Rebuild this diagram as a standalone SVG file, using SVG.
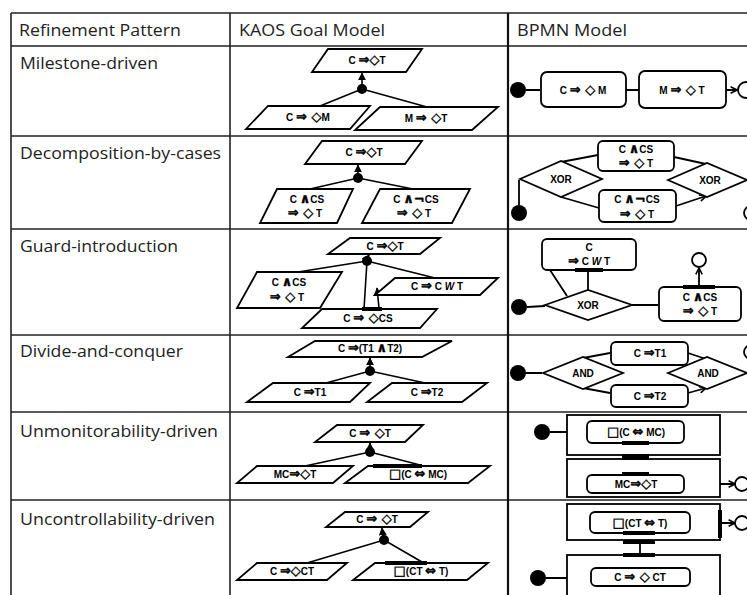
<svg xmlns="http://www.w3.org/2000/svg" width="747" height="595" viewBox="0 0 747 595">
<style>
.tb{stroke:#222;stroke-width:1.6;fill:none}
.h{font-family:"Open Sans","Liberation Sans",sans-serif;font-size:17px;fill:#222}
.g{fill:#fff;stroke:#000;stroke-width:1.8}
.t{font-family:"Liberation Sans","DejaVu Sans",sans-serif;font-weight:bold;font-size:10px;text-anchor:middle;fill:#000}
.s{font-family:"DejaVu Sans",sans-serif;font-size:13px;font-weight:bold;stroke:#000;stroke-width:0.4}
.ln{stroke:#000;stroke-width:1.6;fill:none}
.ar{stroke:#000;stroke-width:1.8;fill:none;marker-end:url(#a)}
.ka{stroke:#000;stroke-width:1.6;fill:none;marker-end:url(#k)}
.bar{stroke:#000;stroke-width:4}
.dot{fill:#000}
.end{fill:#fff;stroke:#000;stroke-width:1.8}
</style>
<defs>
<marker id="a" viewBox="0 0 10 10" refX="9" refY="5" markerWidth="8" markerHeight="8" orient="auto" markerUnits="userSpaceOnUse"><path d="M1,1 L9,5 L1,9" fill="none" stroke="#000" stroke-width="2"/></marker>
<marker id="k" viewBox="0 0 10 10" refX="9" refY="5" markerWidth="8" markerHeight="8" orient="auto" markerUnits="userSpaceOnUse"><path d="M0,0 L10,5 L0,10 Z" fill="#000"/></marker>
</defs>
<g id="table">
<path class="tb" d="M11,13H747M11,46H747M11,136H747M11,229H747M11,335H747M11,412H747M11,500H747M11,13V595M230,13V595"/>
<path d="M508,13V595" stroke="#111" stroke-width="2.2"/>
<text class="h" x="19" y="36" textLength="162" lengthAdjust="spacingAndGlyphs">Refinement Pattern</text>
<text class="h" x="239" y="36" textLength="146" lengthAdjust="spacingAndGlyphs">KAOS Goal Model</text>
<text class="h" x="517" y="36" textLength="110" lengthAdjust="spacingAndGlyphs">BPMN Model</text>
<text class="h" x="20" y="69" textLength="138" lengthAdjust="spacingAndGlyphs">Milestone-driven</text>
<text class="h" x="20" y="159" textLength="201" lengthAdjust="spacingAndGlyphs">Decomposition-by-cases</text>
<text class="h" x="20" y="252" textLength="158" lengthAdjust="spacingAndGlyphs">Guard-introduction</text>
<text class="h" x="20" y="357" textLength="163" lengthAdjust="spacingAndGlyphs">Divide-and-conquer</text>
<text class="h" x="20" y="437" textLength="198" lengthAdjust="spacingAndGlyphs">Unmonitorability-driven</text>
<text class="h" x="20" y="525" textLength="195" lengthAdjust="spacingAndGlyphs">Uncontrollability-driven</text>
</g>
<g id="connectors">
<path class="ln" d="M362,89L320,106M362,89L427,107"/>
<path class="ka" d="M362,86V73"/>
<path class="ln" d="M358,178L310,189M358,178L413,189"/>
<path class="ka" d="M358,175V165"/>
<path class="ln" d="M367,261L298,272M367,261L435,278M367,261L364,309"/>
<path class="ka" d="M379,308L377,288"/>
<path class="ka" d="M367,258L369,255"/>
<path class="ln" d="M370,371L326,383M370,371L425,383"/>
<path class="ka" d="M370,368V358"/>
<path class="ln" d="M370,452L305,466M370,452L420,465"/>
<path class="ka" d="M370,449V443"/>
<path class="ln" d="M384,540L307,563M384,540L422,562"/>
<path class="ka" d="M383,537L382,528"/>
<path class="ar" d="M526,90H540M626,90H639M726,90H737"/>
<path class="ar" d="M519,205V180M561,162L598,155M561,197L599,208M674,157L706,164M676,206L706,196"/>
<path class="ar" d="M527,307L545,306M550,270L567,296M588,290V272M632,305H658M699,287V268"/>
<path class="ar" d="M526,373H542M583,358L610,353M583,388L610,393M688,353L706,359M688,393L706,388"/>
<path class="ar" d="M550,432H586M636,443V473M684,484H735"/>
<path class="ar" d="M546,578H590M640,568V534M690,523H735"/>
</g>
<g id="kaos-milestone">
<polygon class="g" points="328,49 422,49 406,72 312,72"/><text class="t" x="367" y="64">C <tspan class="s">⇒◇</tspan>T</text>
<polygon class="g" points="268,106 370,106 350,129 246,129"/><text class="t" x="308" y="121">C <tspan class="s">⇒ ◇</tspan>M</text>
<polygon class="g" points="380,107 498,107 472,130 355,130"/><text class="t" x="426" y="122">M <tspan class="s">⇒ ◇</tspan>T</text>
<circle class="dot" cx="362" cy="89" r="5"/>
</g>
<g id="kaos-cases">
<polygon class="g" points="322,141 422,141 405,164 305,164"/><text class="t" x="364" y="156">C <tspan class="s">⇒◇</tspan>T</text>
<polygon class="g" points="277,189 353,189 337,223 260,223"/><text class="t" x="307" y="203">C <tspan class="s">∧</tspan>CS</text><text class="t" x="305" y="217"><tspan class="s">⇒ ◇</tspan> T</text>
<polygon class="g" points="380,189 470,189 452,223 362,223"/><text class="t" x="416" y="203">C <tspan class="s">∧¬</tspan>CS</text><text class="t" x="414" y="217"><tspan class="s">⇒ ◇</tspan> T</text>
<circle class="dot" cx="358" cy="178" r="5"/>
</g>
<g id="kaos-guard">
<polygon class="g" points="350,238 440,238 420,254 328,254"/><text class="t" x="385" y="250">C <tspan class="s">⇒◇</tspan>T</text>
<polygon class="g" points="257,272 342,272 320,308 237,308"/><text class="t" x="289" y="286">C <tspan class="s">∧</tspan>CS</text><text class="t" x="287" y="301"><tspan class="s">⇒ ◇</tspan> T</text>
<polygon class="g" points="395,278 498,278 480,295 375,295"/><text class="t" x="437" y="290">C <tspan class="s">⇒</tspan> C <tspan font-style="italic">W</tspan> T</text>
<polygon class="g" points="322,309 437,309 420,328 302,328"/><text class="t" x="368" y="322">C <tspan class="s">⇒ ◇</tspan>CS</text>
<line class="bar" x1="362" y1="309" x2="382" y2="309"/>
<circle class="dot" cx="367" cy="261" r="5"/>
</g>
<g id="kaos-divide">
<polygon class="g" points="315,341 452,341 422,357 288,357"/><text class="t" x="370" y="352">C <tspan class="s">⇒</tspan>(T1 <tspan class="s">∧</tspan>T2)</text>
<polygon class="g" points="273,383 370,383 350,402 247,402"/><text class="t" x="310" y="396">C <tspan class="s">⇒</tspan>T1</text>
<polygon class="g" points="392,383 487,383 462,402 367,402"/><text class="t" x="427" y="396">C <tspan class="s">⇒</tspan>T2</text>
<circle class="dot" cx="370" cy="371" r="5"/>
</g>
<g id="kaos-unmon">
<polygon class="g" points="337,425 423,425 405,442 315,442"/><text class="t" x="370" y="437">C <tspan class="s">⇒ ◇</tspan>T</text>
<polygon class="g" points="257,466 353,466 333,483 237,483"/><text class="t" x="295" y="478">MC<tspan class="s">⇒◇</tspan>T</text>
<polygon class="g" points="368,466 490,466 468,483 345,483"/><text class="t" x="418" y="478"><tspan class="s">□</tspan>(C <tspan class="s">⇔</tspan> MC)</text>
<line class="bar" x1="373" y1="466" x2="422" y2="466"/>
<circle class="dot" cx="370" cy="452" r="5"/>
</g>
<g id="kaos-uncon">
<polygon class="g" points="345,512 428,512 410,527 326,527"/><text class="t" x="377" y="523">C <tspan class="s">⇒ ◇</tspan>T</text>
<polygon class="g" points="257,563 347,563 327,580 237,580"/><text class="t" x="292" y="575">C <tspan class="s">⇒◇</tspan>CT</text>
<polygon class="g" points="375,563 488,563 467,580 353,580"/><text class="t" x="421" y="575"><tspan class="s">□</tspan>(CT <tspan class="s">⇔</tspan> T)</text>
<line class="bar" x1="385" y1="563" x2="427" y2="563"/>
<circle class="dot" cx="384" cy="540" r="5"/>
</g>
<g id="bpmn-milestone">
<circle class="dot" cx="518" cy="90" r="8"/>
<rect class="g" x="541" y="72" width="85" height="35" rx="6"/><text class="t" x="583" y="94">C <tspan class="s">⇒ ◇</tspan> M</text>
<rect class="g" x="639" y="71" width="87" height="37" rx="6"/><text class="t" x="682" y="94">M <tspan class="s">⇒ ◇</tspan> T</text>
<circle class="end" cx="746" cy="90" r="8"/>
</g>
<g id="bpmn-cases">
<circle class="dot" cx="519" cy="213" r="8"/>
<polygon class="g" points="520,179 561,161 602,179 561,197"/><text class="t" x="561" y="183">XOR</text>
<rect class="g" x="598" y="141" width="76" height="30" rx="5"/><text class="t" x="636" y="153">C <tspan class="s">∧</tspan>CS</text><text class="t" x="636" y="167"><tspan class="s">⇒ ◇</tspan> T</text>
<rect class="g" x="599" y="190" width="77" height="32" rx="5"/><text class="t" x="637" y="203">C <tspan class="s">∧¬</tspan>CS</text><text class="t" x="637" y="218"><tspan class="s">⇒ ◇</tspan> T</text>
<polygon class="g" points="668,180 707,163 747,180 707,197"/><text class="t" x="710" y="184">XOR</text>
<circle class="end" cx="751" cy="213" r="7"/>
</g>
<g id="bpmn-guard">
<rect class="g" x="542" y="239" width="94" height="31" rx="5"/><text class="t" x="589" y="251">C</text><text class="t" x="589" y="265"><tspan class="s">⇒</tspan> C <tspan font-style="italic">W</tspan> T</text>
<line class="bar" x1="575" y1="270" x2="603" y2="270"/>
<circle class="dot" cx="519" cy="307" r="8"/>
<polygon class="g" points="545,305 588,290 632,305 588,320"/><text class="t" x="588" y="309">XOR</text>
<rect class="g" x="659" y="287" width="82" height="34" rx="5"/><text class="t" x="700" y="301">C <tspan class="s">∧</tspan>CS</text><text class="t" x="700" y="315"><tspan class="s">⇒ ◇</tspan> T</text>
<line class="bar" x1="683" y1="287" x2="715" y2="287"/>
<circle class="end" cx="699" cy="260" r="7"/>
</g>
<g id="bpmn-divide">
<circle class="dot" cx="518" cy="373" r="8"/>
<polygon class="g" points="543,373 583,357 623,373 583,389"/><text class="t" x="583" y="377">AND</text>
<rect class="g" x="611" y="342" width="77" height="23" rx="5"/><text class="t" x="650" y="357">C <tspan class="s">⇒</tspan>T1</text>
<rect class="g" x="611" y="385" width="77" height="22" rx="5"/><text class="t" x="650" y="400">C <tspan class="s">⇒</tspan>T2</text>
<polygon class="g" points="668,373 707,357 747,373 707,389"/><text class="t" x="708" y="377">AND</text>
<circle class="end" cx="751" cy="352" r="7"/>
</g>
<g id="bpmn-unmon">
<rect class="g" x="567" y="415" width="153" height="40"/>
<rect class="g" x="567" y="459" width="153" height="38"/>
<circle class="dot" cx="542" cy="432" r="8"/>
<rect class="g" x="587" y="421" width="97" height="22" rx="5"/><text class="t" x="636" y="436"><tspan class="s">□</tspan>(C <tspan class="s">⇔</tspan> MC)</text>
<rect class="g" x="587" y="475" width="97" height="18" rx="5"/><text class="t" x="636" y="488">MC<tspan class="s">⇒◇</tspan>T</text>
<line class="bar" x1="622" y1="443" x2="649" y2="443"/>
<line x1="622" y1="457" x2="649" y2="457" stroke="#000" stroke-width="6"/>
<line class="bar" x1="622" y1="474" x2="649" y2="474"/>
<circle class="end" cx="742" cy="484" r="7"/>
</g>
<g id="bpmn-uncon">
<rect class="g" x="567" y="504" width="153" height="36"/>
<rect class="g" x="567" y="555" width="153" height="45"/>
<rect class="g" x="590" y="512" width="100" height="21" rx="5"/><text class="t" x="640" y="527"><tspan class="s">□</tspan>(CT <tspan class="s">⇔</tspan> T)</text>
<rect class="g" x="591" y="568" width="99" height="18" rx="5"/><text class="t" x="640" y="581">C <tspan class="s">⇒ ◇</tspan> CT</text>
<circle class="dot" cx="538" cy="578" r="8"/>
<line class="bar" x1="623" y1="533" x2="655" y2="533"/>
<line class="bar" x1="623" y1="542" x2="655" y2="542"/>
<line class="bar" x1="623" y1="555" x2="655" y2="555"/>
<line class="bar" x1="720" y1="510" x2="720" y2="538"/>
<circle class="end" cx="742" cy="523" r="7"/>
</g>
</svg>
